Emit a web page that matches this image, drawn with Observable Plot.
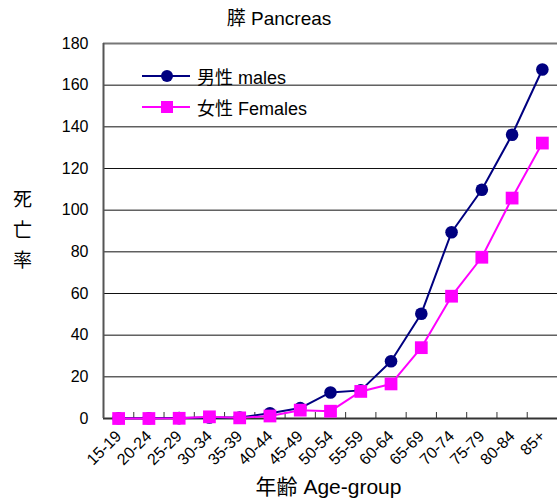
<!DOCTYPE html>
<html>
<head>
<meta charset="utf-8">
<script src="https://cdn.jsdelivr.net/npm/d3@7"></script>
<script src="https://cdn.jsdelivr.net/npm/@observablehq/plot@0.6"></script>
<style>
  html, body { margin: 0; padding: 0; background: #fff; }
  #wrap { position: relative; width: 557px; height: 500px; font-family: "Liberation Sans", "Noto Sans CJK JP", sans-serif; }
  #legend { position: absolute; left: 140px; top: 60px; font-size: 18px; color: #000; }
  .row { display: flex; align-items: center; height: 31px; }
  .row svg { margin-right: 5px; }
</style>
</head>
<body>
<div id="wrap"></div>
<script>
const categories = ["15-19","20-24","25-29","30-34","35-39","40-44","45-49","50-54","55-59","60-64","65-69","70-74","75-79","80-84","85+"];
const males   = [0.1, 0.1, 0.2, 0.5, 0.5, 2.5, 5.0, 12.5, 13.5, 27.5, 50.3, 89.4, 109.8, 136.2, 167.5];
const females = [0.0, 0.0, 0.1, 0.8, 0.3, 1.2, 4.0, 3.5, 13.0, 16.6, 34.0, 58.7, 77.4, 105.8, 132.2];
const yTicks = [0, 20, 40, 60, 80, 100, 120, 140, 160, 180];
const title = "膵 Pancreas";
const yLabel = "死\n亡\n率";
const xLabel = "年齢 Age-group";
const maleLabel = "男性 males";
const femaleLabel = "女性 Females";
const maleColor = "#000080";
const femaleColor = "#FF00FF";

const idx = d3.range(categories.length);
const boundaries = idx.slice(1).map(i => i - 0.5);
const font = "\"Liberation Sans\", \"Noto Sans CJK JP\", sans-serif";

const chart = Plot.plot({
  width: 557,
  height: 500,
  marginTop: 43,
  marginBottom: 82,
  marginLeft: 103,
  marginRight: 0,
  style: {fontFamily: font, background: "#fff", color: "#000"},
  x: {type: "linear", domain: [-0.5, categories.length - 0.5], axis: null},
  y: {domain: [0, 180], axis: null},
  marks: [
    Plot.ruleY(yTicks.slice(1), {stroke: "#111", strokeWidth: 1}),
    Plot.ruleY([180], {stroke: "#777", strokeWidth: 2}),
    Plot.ruleX(boundaries, {stroke: "#333", strokeWidth: 1, insetTop: 369}),
    Plot.ruleY([0], {stroke: "#333", strokeWidth: 2}),
    Plot.ruleX([-0.5], {stroke: "#555", strokeWidth: 2}),
    Plot.axisY(yTicks, {tickSize: 0, tickPadding: 15, fontSize: 16, tickFormat: d => d}),
    Plot.axisX(idx, {tickFormat: i => categories[i], tickRotate: -45, tickSize: 0, tickPadding: 15, fontSize: 16}),
    Plot.line(idx, {x: i => i, y: i => males[i], stroke: maleColor, strokeWidth: 2}),
    Plot.dot(idx, {x: i => i, y: i => males[i], r: 6.3, fill: maleColor}),
    Plot.line(idx, {x: i => i, y: i => females[i], stroke: femaleColor, strokeWidth: 2}),
    Plot.dot(idx, {x: i => i, y: i => females[i], symbol: "square", r: 7.2, fill: femaleColor}),
    Plot.text([title], {frameAnchor: "top", dx: -51.5, dy: -25, lineAnchor: "middle", fontSize: 19}),
    Plot.text([yLabel], {frameAnchor: "left", dx: -81, dy: -4, fontSize: 19, lineHeight: 1.6, textAnchor: "middle"}),
    Plot.text([xLabel], {frameAnchor: "bottom", dx: -2, dy: 69, lineAnchor: "middle", fontSize: 21})
  ]
});
const wrap = document.getElementById("wrap");
wrap.appendChild(chart);

const legend = document.createElement("div");
legend.id = "legend";
legend.innerHTML = `
  <div class="row"><svg width="52" height="16"><line x1="2" y1="8" x2="50" y2="8" stroke="${maleColor}" stroke-width="2"/><circle cx="27" cy="8" r="6" fill="${maleColor}"/></svg><span>${maleLabel}</span></div>
  <div class="row"><svg width="52" height="16"><line x1="2" y1="8" x2="50" y2="8" stroke="${femaleColor}" stroke-width="2"/><rect x="21" y="2" width="12" height="12" fill="${femaleColor}"/></svg><span>${femaleLabel}</span></div>`;
wrap.appendChild(legend);
</script>
</body>
</html>
